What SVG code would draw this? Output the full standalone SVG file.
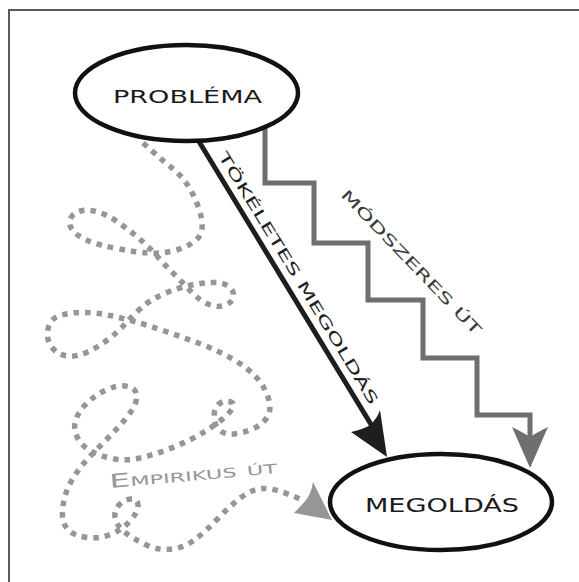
<svg xmlns="http://www.w3.org/2000/svg" width="579" height="582" viewBox="0 0 579 582">
<style>
.frame{fill:none;stroke:#5a5a5a;stroke-width:2}
.node ellipse{fill:#fff;stroke:#111;stroke-width:4.5}
.node text{font-family:"DejaVu Sans","Liberation Sans",sans-serif;fill:#1a1a1a;text-anchor:middle}
.direct{fill:none;stroke:#1e1e1e;stroke-width:5}
.steps{fill:none;stroke:#6f6f6f;stroke-width:5;stroke-linejoin:miter}
.wander{fill:none;stroke:#969696;stroke-width:5.5;stroke-dasharray:5.5 6}
.lbl{font-family:"DejaVu Sans","Liberation Sans",sans-serif;font-size:14.5px}
</style>
<rect width="579" height="582" fill="#fff"/>
<path class="frame" d="M9,582 V10 H579"/>
<g id="connectors">
  <path class="wander" d="M143,143 Q162,160 172,168 Q182,176 188.5,186.5 Q195,197 199,209 Q203,221 202,229 Q201,237 193,242.5 Q185,248 172.5,251 Q160,254 147.5,253 Q135,252 116.5,248.5 Q98,245 87.5,240.5 Q77,236 72.5,230 Q68,224 70.5,218.5 Q73,213 80.5,211 Q88,209 98,212 Q108,215 118.5,222.5 Q129,230 138.5,238 Q148,246 156.5,255.5 Q165,265 174,274 Q183,283 191.5,292 Q200,301 209,304.5 Q218,308 225.5,305 Q233,302 233.5,296 Q234,290 228,286 Q222,282 212,282.5 Q202,283 189.5,285.5 Q177,288 163.5,294 Q150,300 141,308 Q132,316 125,324 Q118,332 108,339.5 Q98,347 87.5,352 Q77,357 67.5,356 Q58,355 52,347.5 Q46,340 48,329 Q50,318 61.5,315 Q73,312 85.5,312.5 Q98,313 110,315.5 Q122,318 134.5,321.5 Q147,325 164.5,331 Q182,337 199.5,343.5 Q217,350 232.5,359 Q248,368 256.5,377.5 Q265,387 268.5,398.5 Q272,410 267,417.5 Q262,425 252.5,429 Q243,433 234,434 Q225,435 219.5,430 Q214,425 214,416.5 Q214,408 219,404 Q224,400 229.5,401.5 Q235,403 232.5,408 Q230,413 222.5,419 Q215,425 206.5,430.5 Q198,436 187.5,441 Q177,446 163.5,451 Q150,456 137.5,458.5 Q125,461 112.5,458.5 Q100,456 91.5,451.5 Q83,447 78,438.5 Q73,430 75.5,421 Q78,412 86.5,403.5 Q95,395 106,390 Q117,385 125,386 Q133,387 135.5,391.5 Q138,396 135.5,403 Q133,410 125.5,419 Q118,428 108,438 Q98,448 89,457.5 Q80,467 73.5,477.5 Q67,488 64.5,498 Q62,508 62.5,516.5 Q63,525 69,530.5 Q75,536 87.5,537.5 Q100,539 111.5,534 Q123,529 130.5,520.5 Q138,512 138,505.5 Q138,499 131.5,499 Q125,499 119.5,504.5 Q114,510 115,517.5 Q116,525 124.5,532 Q133,539 146.5,545 Q160,551 172.5,549 Q185,547 195,539.5 Q205,532 217.5,519 Q230,506 241,497.5 Q252,489 263.5,488.5 Q275,488 300,499"/>
  <path d="M332,520 L313,482 Q311,494 306,500 Q301,506 294,513 Z" fill="#969696"/>
  <path class="steps" d="M265,125 V183 H314 V243 H368 V300 H423 V358 H477 V415 H530 V440"/>
  <path d="M530,468 L512,427 Q524,433 530,437 Q536,433 548,427 Z" fill="#6f6f6f"/>
  <path class="direct" d="M195,135 L372,426"/>
  <path d="M387,457 L351,432 Q364,429 370,425 Q377,419 380,410 Z" fill="#1e1e1e"/>
  <text class="lbl" fill="#1e1e1e" transform="translate(200,143) rotate(58.6)" x="20" y="-8.5" textLength="293" lengthAdjust="spacingAndGlyphs">TÖKÉLETES MEGOLDÁS</text>
  <text class="lbl" fill="#3a3a3a" transform="translate(348,196) rotate(46.1)" x="-6" y="5.5" textLength="195" lengthAdjust="spacingAndGlyphs">MÓDSZERES ÚT</text>
  <text fill="#969696" font-family="DejaVu Sans, Liberation Sans, sans-serif" font-size="19" font-variant="small-caps" transform="translate(110,488) rotate(-5.1)" textLength="168" lengthAdjust="spacingAndGlyphs">Empirikus út</text>
</g>
<g id="problema" class="node">
  <ellipse cx="186.5" cy="93" rx="111.5" ry="48"/>
  <text x="187.5" y="103" font-size="18" textLength="149" lengthAdjust="spacingAndGlyphs">PROBLÉMA</text>
</g>
<g id="megoldas" class="node">
  <ellipse cx="441" cy="502" rx="111" ry="48"/>
  <text x="442" y="512" font-size="19" textLength="154" lengthAdjust="spacingAndGlyphs">MEGOLDÁS</text>
</g>
</svg>
